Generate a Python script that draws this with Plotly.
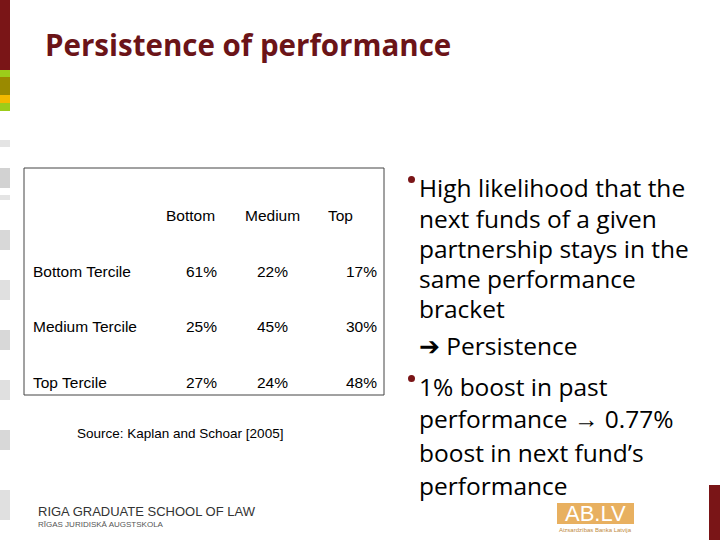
import plotly.graph_objects as go

title = "Persistence of performance"
col_labels = ["Bottom", "Medium", "Top"]
row_labels = ["Bottom Tercile", "Medium Tercile", "Top Tercile"]
values = [["61%", "22%", "17%"],
          ["25%", "45%", "30%"],
          ["27%", "24%", "48%"]]
source = "Source: Kaplan and Schoar [2005]"
bullet_lines = [
    ("High likelihood that the", True, 187),
    ("next funds of a given", False, 218),
    ("partnership stays in the", False, 248),
    ("same performance", False, 278),
    ("bracket", False, 308),
    ("\u2794 Persistence", False, 345),
    ("1% boost in past", True, 386),
    ("performance \u2192 0.77%", False, 418),
    ("boost in next fund\u2019s", False, 452),
    ("performance", False, 485),
]

fig = go.Figure()
shapes = []
ann = []

def rect(x0, y0, x1, y1, color):
    shapes.append(dict(type="rect", x0=x0, y0=y0, x1=x1, y1=y1,
                       fillcolor=color, line=dict(width=0), layer="below"))

# left decorative strip
rect(0, 0, 10, 70, "#7a1517")
rect(0, 70, 10, 77, "#9ccc1a")
rect(0, 77, 10, 95, "#9a8a00")
rect(0, 95, 10, 103, "#f2b900")
rect(0, 103, 10, 111, "#9ccc1a")
for y0, y1, c in [(140, 147, "#e4e4e4"), (168, 188, "#d2d2d2"), (195, 200, "#e4e4e4"),
                  (230, 250, "#d8d8d8"), (280, 300, "#e0e0e0"), (330, 350, "#d8d8d8"),
                  (380, 400, "#e0e0e0"), (430, 450, "#d8d8d8"), (490, 520, "#e0e0e0")]:
    rect(0, y0, 10, y1, c)
# right bottom bar
rect(709, 485, 720, 540, "#7a1517")

# table frame
shapes.append(dict(type="rect", x0=24, y0=168, x1=384, y1=395,
                   line=dict(color="#444", width=1), fillcolor="rgba(0,0,0,0)"))

ann.append(dict(x=43, y=44, text="<b>" + title + "</b>", xanchor="left", showarrow=False,
                font=dict(family="Open Sans", size=29.5, color="#6b1418")))

tfont = dict(family="Liberation Sans", size=15.5, color="black")
col_x = [190, 272, 340]
for x, t in zip(col_x, col_labels):
    ann.append(dict(x=x, y=215, text=t, showarrow=False, font=tfont))
row_y = [271, 326, 382]
val_x = [201, 272, 361]
for i, (y, r) in enumerate(zip(row_y, row_labels)):
    ann.append(dict(x=31, y=y, text=r, xanchor="left", showarrow=False, font=tfont))
    for j, v in enumerate(values[i]):
        ann.append(dict(x=val_x[j], y=y, text=v, showarrow=False, font=tfont))
ann.append(dict(x=180, y=433, text=source, showarrow=False,
                font=dict(family="Liberation Sans", size=13.5, color="black")))

for text, dot, y in bullet_lines:
    if dot:
        shapes.append(dict(type="circle", x0=408, x1=415, y0=y - 11, y1=y - 4,
                           fillcolor="#7a1517", line=dict(width=0)))
    ann.append(dict(x=417, y=y, text=text, xanchor="left", showarrow=False,
                    font=dict(family="Open Sans", size=24.5, color="black")))

# footer logos
ann.append(dict(x=36, y=511, text="RIGA GRADUATE SCHOOL OF LAW", xanchor="left", showarrow=False,
                font=dict(family="Liberation Sans Narrow, Liberation Sans", size=13, color="#333")))
ann.append(dict(x=36, y=524, text="RĪGAS JURIDISKĀ AUGSTSKOLA", xanchor="left", showarrow=False,
                font=dict(family="Liberation Sans", size=8, color="#555")))
rect(557, 503, 634, 524, "#e8b060")
ann.append(dict(x=595, y=513, text="AB.LV", showarrow=False,
                font=dict(family="Liberation Sans", size=22, color="white")))
ann.append(dict(x=595, y=530, text="Aizsardzības Banka Latvija", showarrow=False,
                font=dict(family="Liberation Sans", size=6, color="#c08a40")))

fig.update_layout(width=720, height=540, margin=dict(l=0, r=0, t=0, b=0),
                  paper_bgcolor="white", plot_bgcolor="white", showlegend=False,
                  shapes=shapes, annotations=ann,
                  xaxis=dict(range=[0, 720], visible=False, fixedrange=True),
                  yaxis=dict(range=[540, 0], visible=False, fixedrange=True))
# drop the default page margin so the slide fills the window
fig.write_html("out.html", config={"displayModeBar": False},
               post_script="document.body.style.margin='0';")
